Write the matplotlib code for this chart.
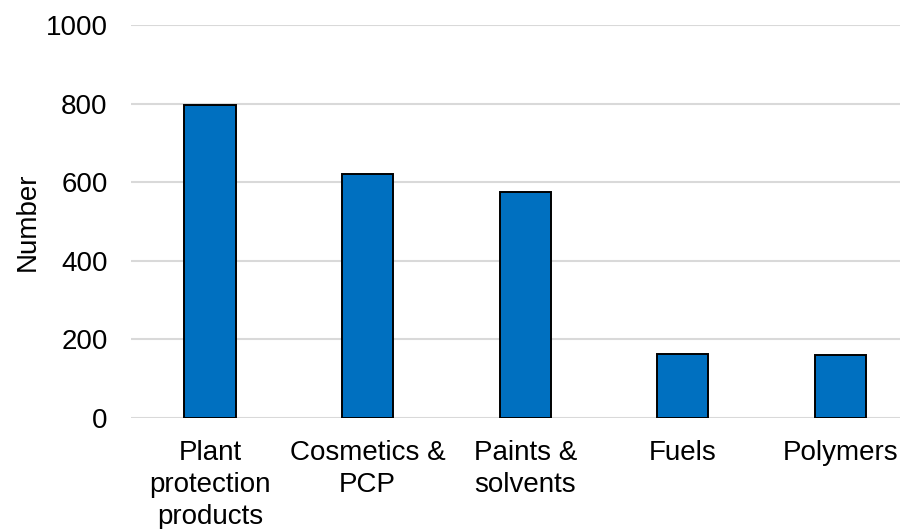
import matplotlib
matplotlib.use("Agg")
import matplotlib.pyplot as plt

categories = ["Plant\nprotection\nproducts", "Cosmetics &\nPCP", "Paints &\nsolvents", "Fuels", "Polymers"]
values = [797, 622, 576, 162, 160]
yticks = [0, 200, 400, 600, 800, 1000]

plt.rcParams['font.family'] = ['Liberation Sans', 'DejaVu Sans']

fig = plt.figure(figsize=(9, 5.29), dpi=100)
ax = fig.add_axes([131.2/900, 1 - 418/529, 788/900, (418-25)/529])

x = list(range(len(categories)))
ax.bar(x, values, width=0.324, color="#0070C0", edgecolor="black", linewidth=1.4, zorder=3)

ax.set_xlim(-0.5, 4.5)
ax.set_ylim(0, 1000)
ax.set_yticks(yticks)
ax.set_yticklabels([str(t) for t in yticks], fontsize=20)
ax.set_xticks(x)
ax.set_xticklabels(categories, fontsize=20, linespacing=1.3, va="top")
ax.tick_params(axis="y", length=0, pad=17)
ax.tick_params(axis="x", length=0, pad=16)
ax.yaxis.grid(True, color="#d9d9d9", linewidth=1.5, zorder=0)
ax.set_axisbelow(True)
for s in ax.spines.values():
    s.set_visible(False)
ax.set_ylabel("Number", fontsize=20)
ax.yaxis.set_label_coords(-90/788, 0.5)

fig.savefig("out.png", dpi=100)
